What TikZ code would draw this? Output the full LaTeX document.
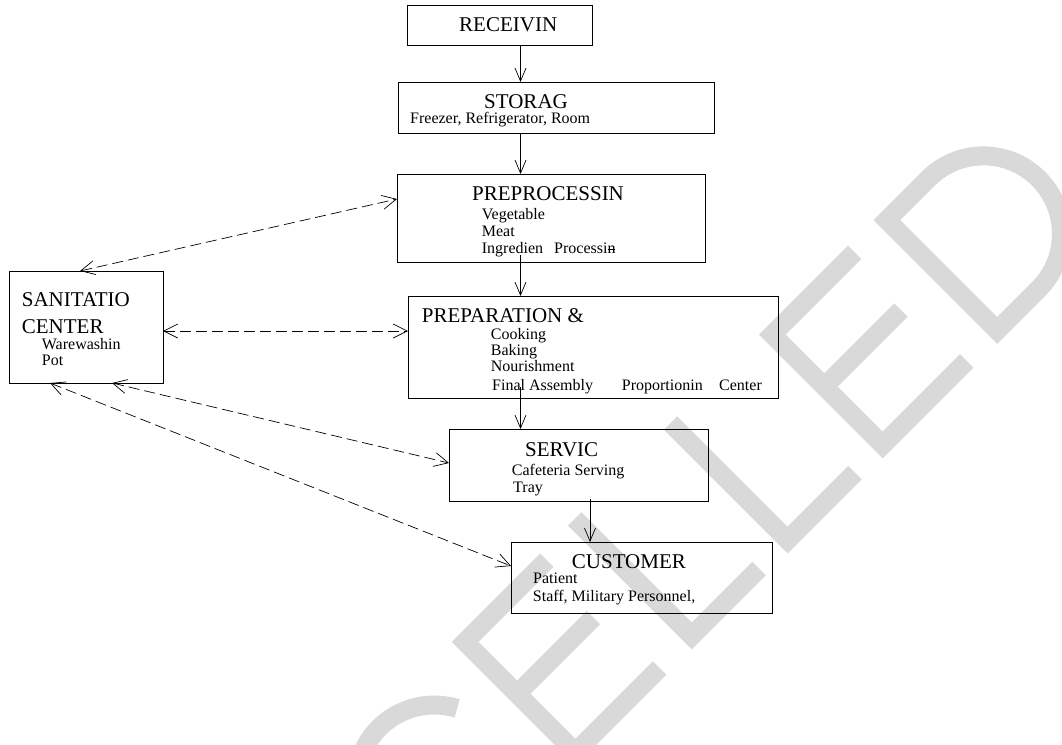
\documentclass[tikz,border=0pt]{standalone}
\usepackage{fontspec}
\setmainfont{Liberation Serif}
\usetikzlibrary{arrows.meta}
\definecolor{cwmk}{HTML}{D9D9D9}

\begin{document}
\begin{tikzpicture}[x=1pt,y=-1pt,>={Straight Barb[length=13pt,width=11pt]},
  box/.style={draw,line width=0.8pt,inner sep=0pt,outer sep=0pt},
  head/.style={anchor=base west,inner sep=0pt,font=\fontsize{21}{25}\selectfont},
  item/.style={anchor=base west,inner sep=0pt,font=\fontsize{16}{19}\selectfont},
  flow/.style={->,line width=0.7pt},
  link/.style={<->,line width=0.7pt,dash pattern=on 11pt off 5pt,>={Straight Barb[length=14pt,width=14pt]}}]
  \useasboundingbox (0,0) rectangle (1062,744);
  % watermark
  \begin{scope}
    \clip (0,0) rectangle (1062,744);
    \begin{scope}[shift={(663.8,663.8)},x=1pt,y=1pt,rotate=45,cwmk,line width=19pt]
      \draw (-177.7,114.6) arc[start angle=28,end angle=332,radius=78];
      \draw (-9.5,156) -- (-125,156) -- (-125,0) -- (-6,0);
      \draw (-125,82.5) -- (-17,82.5);
      \draw (39.5,165.5) -- (39.5,0) -- (134.8,0);
      \draw (175,165.5) -- (175,0) -- (270.3,0);
      \draw (426,156) -- (309.5,156) -- (309.5,0) -- (428.4,0);
      \draw (309.5,82.5) -- (417.8,82.5);
      \draw (471.5,0) -- (471.5,156) -- (530,156) arc[start angle=90,end angle=-90,radius=78] -- cycle;
    \end{scope}
  \end{scope}

  % boxes
  \node[box,minimum width=185,minimum height=40] (rec) at (499.5,25) {};
  \node[box,minimum width=316,minimum height=51] (sto) at (556,107.5) {};
  \node[box,minimum width=308,minimum height=88] (pre) at (551,218) {};
  \node[box,minimum width=370,minimum height=102] (prp) at (593,347) {};
  \node[box,minimum width=154,minimum height=112] (san) at (86,327) {};
  \node[box,minimum width=259,minimum height=72] (ser) at (578.5,465) {};
  \node[box,minimum width=261,minimum height=71] (cus) at (641.5,577.5) {};

  % texts
  \node[head] (rec-t) at (459,31.7) {RECEIVIN};
  \node[head] (sto-t) at (484,108.5) {STORAG};
  \node[item] (sto-a) at (410,123.5) {Freezer, Refrigerator, Room};
  \node[head] (pre-t) at (472,200.7) {PREPROCESSIN};
  \node[item] (pre-a) at (481.7,219.5) {Vegetable};
  \node[item] (pre-b) at (481.7,236.5) {Meat};
  \node[item] (pre-c) at (481.7,253.5) {Ingredien};
  \node[item] (pre-d) at (554,253.5) {Processi\rlap{\rule[0.2em]{0.48em}{0.06em}}n};
  \node[head] (prp-t) at (421.7,322.5) {PREPARATION \&};
  \node[item] (prp-a) at (490.7,339) {Cooking};
  \node[item] (prp-b) at (490.7,355.5) {Baking};
  \node[item] (prp-c) at (490.7,371.7) {Nourishment};
  \node[item] (prp-d) at (492,390) {Final Assembly};
  \node[item] (prp-e) at (621.7,390) {Proportionin};
  \node[item] (prp-f) at (719,390) {Center};
  \node[head] (san-t) at (21.7,306.7) {SANITATIO};
  \node[head] (san-u) at (21.7,333) {CENTER};
  \node[item] (san-a) at (41.7,349) {Warewashin};
  \node[item] (san-b) at (41.7,365.3) {Pot};
  \node[head] (ser-t) at (525,456) {SERVIC};
  \node[item] (ser-a) at (511.7,475.3) {Cafeteria Serving};
  \node[item] (ser-b) at (513,492) {Tray};
  \node[head] (cus-t) at (571.7,568.5) {CUSTOMER};
  \node[item] (cus-a) at (533,583.3) {Patient};
  \node[item] (cus-b) at (532.7,601.7) {Staff, Military Personnel,};

  % flow
  \coordinate (colA) at (520.5,0);
  \coordinate (colB) at (590,0);
  \draw[flow] (colA |- rec.south) -- (colA |- sto.north);
  \draw[flow] (colA |- sto.south) -- (colA |- pre.north);
  \draw[flow,shorten <=-7pt] (colA |- pre.south) -- (colA |- prp.north);
  \draw[flow,shorten <=-11pt] (colA |- prp.south) -- (colA |- ser.north);
  \draw[flow,shorten <=-2pt] (colB |- ser.south) -- (colB |- cus.north);

  % sanitation links
  \draw[link] ([xshift=-6pt]san.north) -- ([yshift=19pt]pre.west);
  \draw[link] ([yshift=-4pt]san.east) -- ([yshift=16pt]prp.west);
  \draw[link] ([xshift=26pt]san.south) -- ([yshift=2pt]ser.west);
  \draw[link] ([xshift=-36pt]san.south) -- ([yshift=11.5pt]cus.west);
\end{tikzpicture}
\end{document}
